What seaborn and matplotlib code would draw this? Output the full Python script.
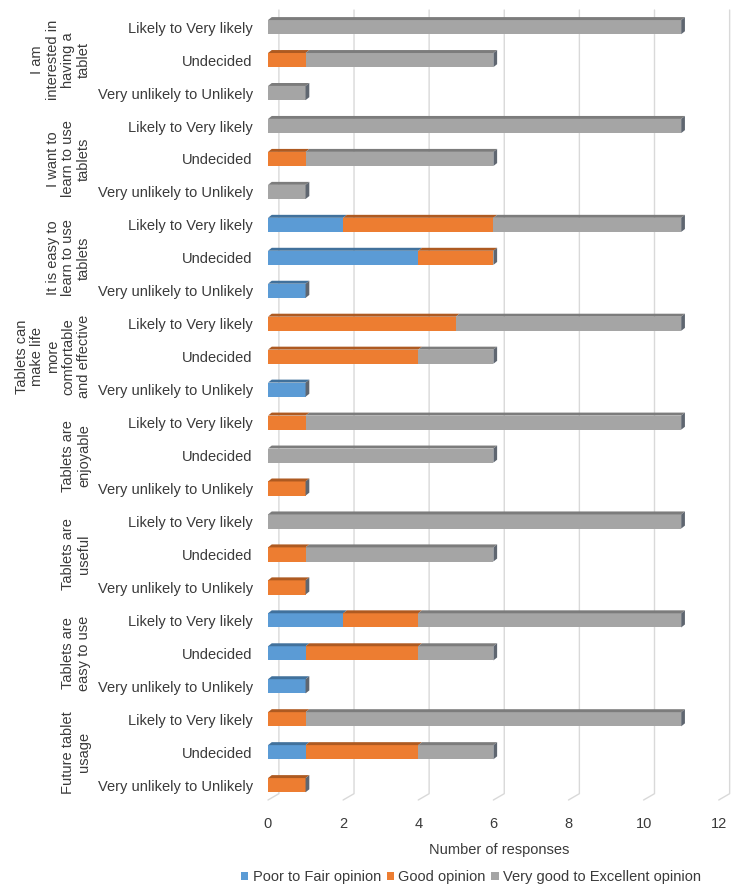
#Respuestas sobre uso de tablets - barras apiladas horizontales
import pandas as pd
import numpy as np
import seaborn as sns
import matplotlib.pyplot as plt
import matplotlib.transforms as mtransforms
from matplotlib.patches import Patch

#Datos
groups = ["I am\ninterested in\nhaving a\ntablet",
          "I want to\nlearn to use\ntablets",
          "It is easy to\nlearn to use\ntablets",
          "Tablets can\nmake life\nmore\ncomfortable\nand effective",
          "Tablets are\nenjoyable",
          "Tablets are\nuseful",
          "Tablets are\neasy to use",
          "Future tablet\nusage"]
responses = ["Likely to Very likely", "Undecided", "Very unlikely to Unlikely"]
series = ["Poor to Fair opinion", "Good opinion", "Very good to Excellent opinion"]

poor = [0, 0, 0,  0, 0, 0,  2, 4, 1,  0, 0, 1,  0, 0, 0,  0, 0, 0,  2, 1, 1,  0, 1, 0]
good = [0, 1, 0,  0, 1, 0,  4, 2, 0,  5, 4, 0,  1, 0, 1,  0, 1, 1,  2, 3, 0,  1, 3, 1]
vgood = [11, 5, 1,  11, 5, 1,  5, 0, 0,  6, 2, 0,  10, 6, 0,  11, 5, 0,  7, 2, 0,  10, 2, 0]
x_ticks = [0, 2, 4, 6, 8, 10, 12]

colors = ["#5B9BD5", "#ED7D31", "#A5A5A5"]
dark = ["#41719C", "#AE5A21", "#7C7C7C"]
txt = "#3a3a3a"

sns.set_style("white")
plt.rcParams['font.family'] = ['Liberation Sans', 'DejaVu Sans']

#Tabla con filas unicas
rows = ["r%02d" % i for i in range(len(poor))]
df = pd.DataFrame({"row": rows, "poor": poor, "good": good, "vgood": vgood})
df["c1"] = df["poor"]
df["c2"] = df["poor"] + df["good"]
df["c3"] = df["c2"] + df["vgood"]

fig = plt.figure(figsize=(7.37, 8.93), dpi=100)
ax = fig.add_axes([268/737, 1 - 800/893, (730 - 268)/737, 790/893])

h = 0.43
#Barras acumuladas (de la mayor a la menor)
sns.barplot(data=df, x="c3", y="row", orient="h", color=colors[2], width=h,
            errorbar=None, ax=ax, saturation=1, linewidth=0)
sns.barplot(data=df, x="c2", y="row", orient="h", color=colors[1], width=h,
            errorbar=None, ax=ax, saturation=1, linewidth=0)
sns.barplot(data=df, x="c1", y="row", orient="h", color=colors[0], width=h,
            errorbar=None, ax=ax, saturation=1, linewidth=0)

#Efecto 3D: franja superior y tapa derecha
dx, dy = 0.1, 0.09
for i in range(len(df)):
    starts = [0, df["c1"][i], df["c2"][i]]
    widths = [df["poor"][i], df["good"][i], df["vgood"][i]]
    top = i - h / 2
    for k in range(3):
        if widths[k] == 0:
            continue
        l, w = starts[k], widths[k]
        ax.fill([l, l + w, l + w + dx, l + dx], [top, top, top - dy, top - dy],
                color=dark[k], lw=0, zorder=3)
    tot = df["c3"][i]
    ax.fill([tot, tot, tot + dx, tot + dx], [top, i + h / 2, i + h / 2 - dy, top - dy],
            color="#5f6670", lw=0, zorder=3)

#Lineas de cuadricula (pared trasera)
trans = mtransforms.blended_transform_factory(ax.transData, ax.transAxes)
for t in x_ticks:
    ax.plot([t, t + 0.29, t + 0.29], [0, 0.008, 1], color="#D9D9D9", lw=1,
            transform=trans, zorder=0, clip_on=False)

ax.set_xlim(0, 12.3)
ax.set_ylim(23.45, -0.52)
ax.set_xticks(x_ticks)
ax.set_xticklabels([str(t) for t in x_ticks], fontsize=10.5, color=txt)
ax.set_yticks(range(len(df)))
ax.set_yticklabels(responses * len(groups), fontsize=10.5, color=txt)
ax.tick_params(axis="both", length=0)
ax.tick_params(axis="y", pad=11)
ax.tick_params(axis="x", pad=12)
ax.set_ylabel("")
ax.set_xlabel("Number of responses", fontsize=10.5, color=txt, labelpad=9)
for s in ax.spines.values():
    s.set_visible(False)

#Etiquetas de grupo
gtrans = mtransforms.blended_transform_factory(fig.transFigure, ax.transData)
for g, name in enumerate(groups):
    fig.text(91/737, g * 3 + 1, name, transform=gtrans, rotation=90,
             ha="right", va="center", multialignment="center",
             fontsize=10.5, color=txt, linespacing=1.14)

#Leyenda
handles = [Patch(facecolor=c, edgecolor="none") for c in colors]
fig.legend(handles, series, loc="center", bbox_to_anchor=(471/737, 1 - 877/893),
           ncol=3, frameon=False, fontsize=10.5, handlelength=0.5, handleheight=0.5,
           handletextpad=0.3, columnspacing=0.4, labelcolor=txt)

fig.savefig("out.png", dpi=100)
